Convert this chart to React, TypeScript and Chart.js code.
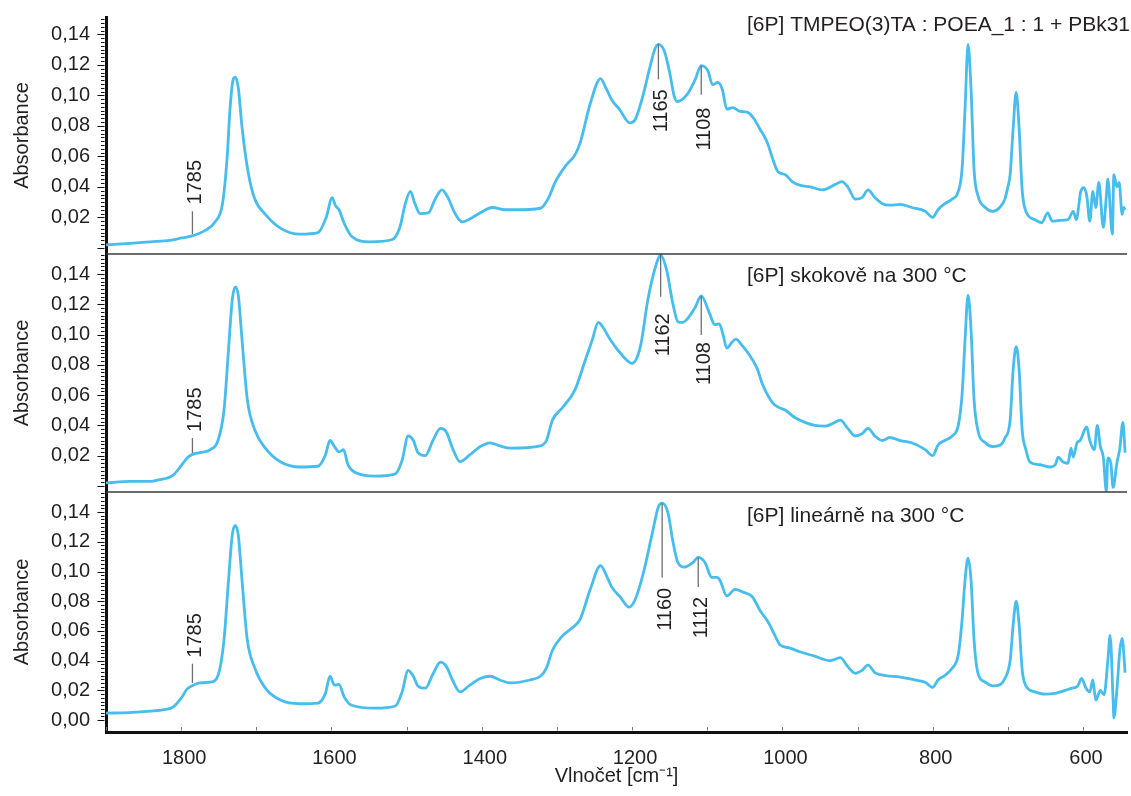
import React, { useEffect, useRef } from 'react';
import { Chart, registerables } from 'chart.js';

Chart.register(...registerables);

const FONT = '"Liberation Sans", Arial, Helvetica, sans-serif';
const INK = '#231f20';
const TRACE = '#46bdec';

// Wavenumber [cm-1], absorbance pairs for each spectrum (high to low wavenumber)
const spectrumInitial: [number, number][] = [
  [1900, 0.002], [1868, 0.003], [1841, 0.004], [1815, 0.005], [1799, 0.0065], [1788, 0.0075],
  [1768, 0.0115], [1755, 0.017], [1745, 0.029], [1739, 0.058], [1735, 0.091], [1731, 0.11],
  [1728, 0.112], [1724, 0.105], [1719, 0.079], [1711, 0.05], [1702, 0.032], [1688, 0.022],
  [1668, 0.013], [1642, 0.009], [1618, 0.01], [1607, 0.02], [1599, 0.033], [1595, 0.028],
  [1590, 0.025], [1583, 0.016], [1573, 0.0075], [1549, 0.004], [1519, 0.0055], [1509, 0.0135],
  [1502, 0.0285], [1495, 0.037], [1489, 0.029], [1482, 0.0225], [1471, 0.023], [1462, 0.032],
  [1453, 0.038], [1445, 0.033], [1436, 0.023], [1426, 0.017], [1416, 0.019], [1402, 0.023],
  [1386, 0.0265], [1369, 0.025], [1356, 0.025], [1322, 0.026], [1312, 0.032], [1302, 0.0435],
  [1289, 0.0535], [1276, 0.061], [1269, 0.069], [1256, 0.094], [1242, 0.111], [1235, 0.105],
  [1227, 0.097], [1217, 0.091], [1203, 0.082], [1196, 0.084], [1186, 0.099], [1177, 0.117],
  [1170, 0.13], [1165, 0.1335], [1157, 0.129], [1150, 0.115], [1144, 0.0995], [1140, 0.096],
  [1127, 0.1005], [1116, 0.1105], [1108, 0.1195], [1099, 0.116], [1093, 0.107], [1086, 0.1085],
  [1080, 0.104], [1074, 0.091], [1066, 0.092], [1056, 0.0895], [1047, 0.089], [1039, 0.0855],
  [1030, 0.078], [1020, 0.069], [1014, 0.06], [1006, 0.05], [996, 0.048], [987, 0.0435],
  [976, 0.041], [963, 0.04], [947, 0.038], [930, 0.0415], [921, 0.0435], [913, 0.04],
  [903, 0.032], [894, 0.033], [886, 0.038], [877, 0.033], [867, 0.029], [857, 0.028],
  [843, 0.0285], [828, 0.0265], [810, 0.024], [800, 0.02], [793, 0.025], [784, 0.029],
  [774, 0.032], [766, 0.037], [761, 0.0515], [757, 0.091], [753, 0.1335], [749, 0.104],
  [745, 0.0515], [740, 0.0345], [730, 0.0265], [720, 0.024], [710, 0.027], [704, 0.032],
  [700, 0.04], [697, 0.048], [693, 0.078], [689, 0.102], [685, 0.078], [681, 0.038],
  [676, 0.024], [664, 0.0185], [655, 0.0165], [647, 0.023], [641, 0.0175], [631, 0.018],
  [620, 0.0185], [613, 0.024], [609, 0.0185], [603, 0.037], [599, 0.0395], [595, 0.034],
  [591, 0.0175], [587, 0.037], [583, 0.0265], [579, 0.043], [573, 0.0135], [569, 0.034],
  [567, 0.045], [561, 0.009], [559, 0.048], [555, 0.04], [552, 0.043], [548, 0.022],
  [546, 0.0265], [544, 0.025],
];

const spectrumStep: [number, number][] = [
  [1900, 0.002], [1868, 0.003], [1841, 0.003], [1830, 0.004], [1811, 0.007], [1799, 0.014],
  [1792, 0.0185], [1784, 0.021], [1775, 0.022], [1761, 0.024], [1751, 0.03], [1743, 0.05],
  [1737, 0.09], [1732, 0.123], [1728, 0.1315], [1724, 0.126], [1719, 0.0965], [1712, 0.057],
  [1702, 0.037], [1688, 0.025], [1668, 0.016], [1642, 0.0125], [1618, 0.013], [1608, 0.0205],
  [1602, 0.03], [1596, 0.026], [1590, 0.0225], [1584, 0.024], [1578, 0.014], [1569, 0.009],
  [1542, 0.0065], [1515, 0.008], [1506, 0.017], [1498, 0.033], [1491, 0.03], [1485, 0.022],
  [1475, 0.02], [1465, 0.03], [1455, 0.038], [1447, 0.0355], [1439, 0.025], [1429, 0.016],
  [1416, 0.0205], [1402, 0.026], [1389, 0.0285], [1376, 0.0265], [1362, 0.025], [1322, 0.0265],
  [1314, 0.03], [1306, 0.0435], [1293, 0.0515], [1276, 0.0635], [1263, 0.082], [1253, 0.0965],
  [1245, 0.108], [1239, 0.105], [1229, 0.0965], [1216, 0.088], [1200, 0.081], [1189, 0.092],
  [1179, 0.123], [1169, 0.1445], [1162, 0.1525], [1154, 0.1425], [1146, 0.121], [1139, 0.1085],
  [1133, 0.108], [1127, 0.11], [1116, 0.118], [1108, 0.1255], [1097, 0.114], [1090, 0.1065],
  [1084, 0.107], [1079, 0.1], [1074, 0.091], [1067, 0.095], [1062, 0.097], [1054, 0.093],
  [1046, 0.088], [1034, 0.078], [1026, 0.0665], [1016, 0.057], [1010, 0.0535], [1003, 0.0515],
  [996, 0.05], [983, 0.045], [970, 0.042], [957, 0.04], [943, 0.0395], [934, 0.041],
  [923, 0.0435], [913, 0.038], [903, 0.033], [894, 0.0345], [886, 0.038], [877, 0.033],
  [867, 0.03], [857, 0.032], [843, 0.03], [828, 0.0285], [810, 0.024], [800, 0.02],
  [793, 0.027], [784, 0.03], [774, 0.033], [766, 0.04], [761, 0.06], [757, 0.0965],
  [753, 0.126], [749, 0.103], [745, 0.057], [740, 0.037], [730, 0.0285], [720, 0.026],
  [710, 0.027], [704, 0.0315], [697, 0.0435], [693, 0.0765], [689, 0.092], [685, 0.0765],
  [681, 0.037], [676, 0.024], [671, 0.016], [657, 0.014], [644, 0.0125], [637, 0.014],
  [633, 0.019], [627, 0.016], [620, 0.015], [616, 0.025], [613, 0.019], [608, 0.0285],
  [604, 0.03], [597, 0.038], [595, 0.039], [591, 0.03], [585, 0.024], [581, 0.04],
  [577, 0.026], [573, 0.019], [569, -0.0035], [567, 0.0185], [563, 0.015], [560, -0.001],
  [555, 0.015], [551, 0.025], [547, 0.042], [544, 0.022],
];

const spectrumLinear: [number, number][] = [
  [1900, 0.0047], [1870, 0.005], [1841, 0.006], [1819, 0.0074], [1811, 0.0087], [1799, 0.0155],
  [1792, 0.021], [1784, 0.0235], [1775, 0.025], [1761, 0.0255], [1751, 0.03], [1743, 0.054],
  [1737, 0.094], [1732, 0.1245], [1728, 0.131], [1724, 0.1245], [1719, 0.094], [1712, 0.054],
  [1702, 0.035], [1688, 0.0215], [1668, 0.0135], [1642, 0.011], [1618, 0.0115], [1608, 0.018],
  [1602, 0.0295], [1596, 0.0235], [1590, 0.024], [1583, 0.0155], [1573, 0.01], [1542, 0.008],
  [1515, 0.0095], [1506, 0.019], [1498, 0.0335], [1491, 0.0295], [1485, 0.023], [1475, 0.0215],
  [1465, 0.031], [1455, 0.039], [1447, 0.036], [1439, 0.027], [1429, 0.019], [1416, 0.0235],
  [1402, 0.028], [1389, 0.0295], [1376, 0.027], [1362, 0.025], [1336, 0.027], [1322, 0.0295],
  [1314, 0.035], [1306, 0.047], [1293, 0.0565], [1280, 0.062], [1269, 0.068], [1256, 0.0875],
  [1242, 0.104], [1233, 0.096], [1227, 0.0895], [1216, 0.083], [1204, 0.076], [1196, 0.081],
  [1185, 0.099], [1173, 0.126], [1165, 0.1435], [1160, 0.146], [1152, 0.139], [1146, 0.121],
  [1139, 0.106], [1130, 0.103], [1119, 0.106], [1112, 0.1095], [1103, 0.106], [1094, 0.096],
  [1087, 0.096], [1083, 0.094], [1074, 0.0835], [1063, 0.088], [1052, 0.086], [1040, 0.083],
  [1030, 0.074], [1019, 0.066], [1010, 0.057], [1003, 0.0505], [990, 0.0485], [977, 0.046],
  [957, 0.043], [937, 0.04], [923, 0.042], [913, 0.036], [903, 0.0315], [894, 0.0335],
  [886, 0.037], [877, 0.032], [863, 0.03], [843, 0.029], [824, 0.027], [810, 0.0255],
  [800, 0.022], [793, 0.027], [784, 0.03], [774, 0.035], [766, 0.044], [761, 0.067],
  [757, 0.094], [753, 0.109], [749, 0.094], [745, 0.054], [740, 0.032], [730, 0.0255],
  [720, 0.023], [710, 0.024], [704, 0.028], [697, 0.04], [693, 0.064], [689, 0.08],
  [685, 0.064], [681, 0.034], [676, 0.023], [664, 0.019], [651, 0.0175], [637, 0.018],
  [624, 0.02], [615, 0.0215], [607, 0.023], [602, 0.028], [596, 0.0215], [591, 0.019],
  [587, 0.027], [583, 0.0135], [577, 0.02], [572, 0.017], [567, 0.04], [564, 0.057],
  [560, 0.0135], [559, 0.0015], [555, 0.02], [551, 0.047], [548, 0.055], [544, 0.032],
];

const panelTitles = [
  '[6P] TMPEO(3)TA : POEA_1 : 1 + PBk31',
  '[6P] skokově na 300 °C',
  '[6P] lineárně na 300 °C',
];

// Axis limits per panel (top to bottom) and relative panel heights
const panelLimits: [number, number][] = [[-0.004, 0.1514], [-0.004, 0.1532], [-0.008, 0.1535]];
const panelWeights = [237, 238, 240];
const panelAxes = ['yTop', 'yMid', 'yBot'];
const panelSpectra = [spectrumInitial, spectrumStep, spectrumLinear];

const xTickValues = [600, 800, 1000, 1200, 1400, 1600, 1800];
const yTickValues = [0, 0.02, 0.04, 0.06, 0.08, 0.1, 0.12, 0.14];

// Peak markers: panel, wavenumber, marker line span and where the label ends
type PeakMark = { panel: number; wn: number; low: number; high: number; labelAt: number; above: boolean; text: string };
const peakMarks: PeakMark[] = [
  { panel: 0, wn: 1785, low: 0.009, high: 0.024, labelAt: 0.0285, above: true, text: '1785' },
  { panel: 0, wn: 1165, low: 0.1105, high: 0.1335, labelAt: 0.104, above: false, text: '1165' },
  { panel: 0, wn: 1108, low: 0.1005, high: 0.1195, labelAt: 0.092, above: false, text: '1108' },
  { panel: 1, wn: 1785, low: 0.0218, high: 0.0317, labelAt: 0.0357, above: true, text: '1785' },
  { panel: 1, wn: 1162, low: 0.125, high: 0.1525, labelAt: 0.114, above: false, text: '1162' },
  { panel: 1, wn: 1108, low: 0.0997, high: 0.1255, labelAt: 0.095, above: false, text: '1108' },
  { panel: 2, wn: 1785, low: 0.025, high: 0.038, labelAt: 0.042, above: true, text: '1785' },
  { panel: 2, wn: 1160, low: 0.096, high: 0.146, labelAt: 0.089, above: false, text: '1160' },
  { panel: 2, wn: 1112, low: 0.0895, high: 0.1095, labelAt: 0.083, above: false, text: '1112' },
];

const MINOR_STEP = 0.0025;

const decorPlugin = {
  id: 'panelDecor',
  afterDatasetsDraw(chart: any) {
    const { ctx, chartArea, scales } = chart;
    const xs = scales.x;
    ctx.save();

    // panel separators
    ctx.strokeStyle = '#3a3a3a';
    ctx.lineWidth = 1.5;
    panelAxes.forEach((id, i) => {
      if (i === 0) return;
      const s = scales[id];
      ctx.beginPath();
      ctx.moveTo(chartArea.left, s.top);
      ctx.lineTo(chartArea.right, s.top);
      ctx.stroke();
    });

    // y tick marks: major every 0.02, minor every 0.0025
    ctx.strokeStyle = '#111';
    ctx.lineWidth = 1;
    panelAxes.forEach((id) => {
      const s = scales[id];
      for (let k = 0; k * MINOR_STEP <= s.max + 1e-9; k++) {
        const py = Math.round(s.getPixelForValue(k * MINOR_STEP)) + 0.5;
        const len = k % 8 === 0 ? 7 : 3.5;
        ctx.beginPath();
        ctx.moveTo(s.right - 1.5 - len, py);
        ctx.lineTo(s.right - 1.5, py);
        ctx.stroke();
      }
    });

    // x tick marks every 100 cm-1, pointing into the plot
    ctx.strokeStyle = '#777';
    for (let v = 600; v <= 1900; v += 100) {
      const px = Math.round(xs.getPixelForValue(v)) + 0.5;
      ctx.beginPath();
      ctx.moveTo(px, xs.top - 1.5);
      ctx.lineTo(px, xs.top - 5);
      ctx.stroke();
    }

    // panel captions
    ctx.fillStyle = INK;
    ctx.font = `21px ${FONT}`;
    ctx.textBaseline = 'middle';
    ctx.textAlign = 'left';
    const captionDy = [8, 22, 24];
    panelAxes.forEach((id, i) => {
      const s = scales[id];
      ctx.fillText(panelTitles[i], chartArea.right - 380, s.top + captionDy[i]);
    });

    // peak markers
    ctx.font = `20px ${FONT}`;
    peakMarks.forEach((m) => {
      const s = scales[panelAxes[m.panel]];
      const px = xs.getPixelForValue(m.wn);
      ctx.strokeStyle = '#6d6e71';
      ctx.lineWidth = 1.3;
      ctx.beginPath();
      ctx.moveTo(px, s.getPixelForValue(m.low));
      ctx.lineTo(px, s.getPixelForValue(m.high));
      ctx.stroke();
      ctx.save();
      ctx.translate(px + 3, s.getPixelForValue(m.labelAt));
      ctx.rotate(-Math.PI / 2);
      ctx.textAlign = m.above ? 'left' : 'right';
      ctx.textBaseline = 'middle';
      ctx.fillStyle = INK;
      ctx.fillText(m.text, 0, 0);
      ctx.restore();
    });

    ctx.restore();
  },
};

const fmtAbs = (v: number) => v.toFixed(2).replace('.', ',');

function panelScale(i: number) {
  const [min, max] = panelLimits[i];
  return {
    type: 'linear',
    position: 'left',
    stack: 'panels',
    stackWeight: panelWeights[i],
    min,
    max,
    grid: { display: false, drawTicks: false },
    border: { display: true, color: '#111', width: 3 },
    ticks: {
      color: INK,
      font: { family: FONT, size: 20 },
      padding: 16,
      autoSkip: false,
      callback: (v: number) => (i < 2 && v === 0 ? '' : fmtAbs(v)),
    },
    afterBuildTicks: (s: any) => {
      s.ticks = yTickValues.map((value) => ({ value }));
    },
    afterFit: (s: any) => {
      s.width = 100;
      s.paddingTop = 0;
      s.paddingBottom = 0;
    },
    title: {
      display: true,
      text: 'Absorbance',
      color: INK,
      font: { family: FONT, size: 20 },
      padding: { top: 4, bottom: 0 },
    },
  };
}

export default function App() {
  const canvasRef = useRef<HTMLCanvasElement>(null);

  useEffect(() => {
    const datasets = panelSpectra.map((spec, i) => ({
      data: spec.map(([x, y]) => ({ x, y })),
      yAxisID: panelAxes[i],
      borderColor: TRACE,
      borderWidth: 2.8,
      pointRadius: 0,
      cubicInterpolationMode: 'monotone',
      fill: false,
    }));

    const chart = new Chart(canvasRef.current!, {
      type: 'line',
      data: { datasets } as any,
      options: {
        animation: false,
        responsive: false,
        maintainAspectRatio: false,
        layout: { padding: { left: 6, right: 4, top: 17, bottom: 0 } },
        plugins: { legend: { display: false }, tooltip: { enabled: false } },
        scales: {
          x: {
            type: 'linear',
            reverse: true,
            min: 541.5,
            max: 1900,
            grid: { display: false, drawTicks: false },
            border: { display: true, color: '#111', width: 3 },
            ticks: {
              color: INK,
              font: { family: FONT, size: 20 },
              padding: 14,
              labelOffset: 3,
              autoSkip: false,
              maxRotation: 0,
              callback: (v: number) => String(v),
            },
            afterBuildTicks: (s: any) => {
              s.ticks = xTickValues.map((value) => ({ value }));
            },
            afterFit: (s: any) => {
              s.height = 64;
              s.paddingLeft = 0;
              s.paddingRight = 0;
            },
            title: {
              display: true,
              text: 'Vlnočet [cm⁻¹]',
              color: INK,
              font: { family: FONT, size: 20 },
              padding: { top: 0, bottom: 8 },
            },
          },
          yBot: panelScale(2),
          yMid: panelScale(1),
          yTop: panelScale(0),
        } as any,
      },
      plugins: [decorPlugin],
    });

    return () => chart.destroy();
  }, []);

  return (
    <div style={{ position: 'fixed', left: 0, top: 0, width: 1131, height: 796, background: '#fff' }}>
      <canvas ref={canvasRef} width={1131} height={796} style={{ width: 1131, height: 796, display: 'block' }} />
    </div>
  );
}
